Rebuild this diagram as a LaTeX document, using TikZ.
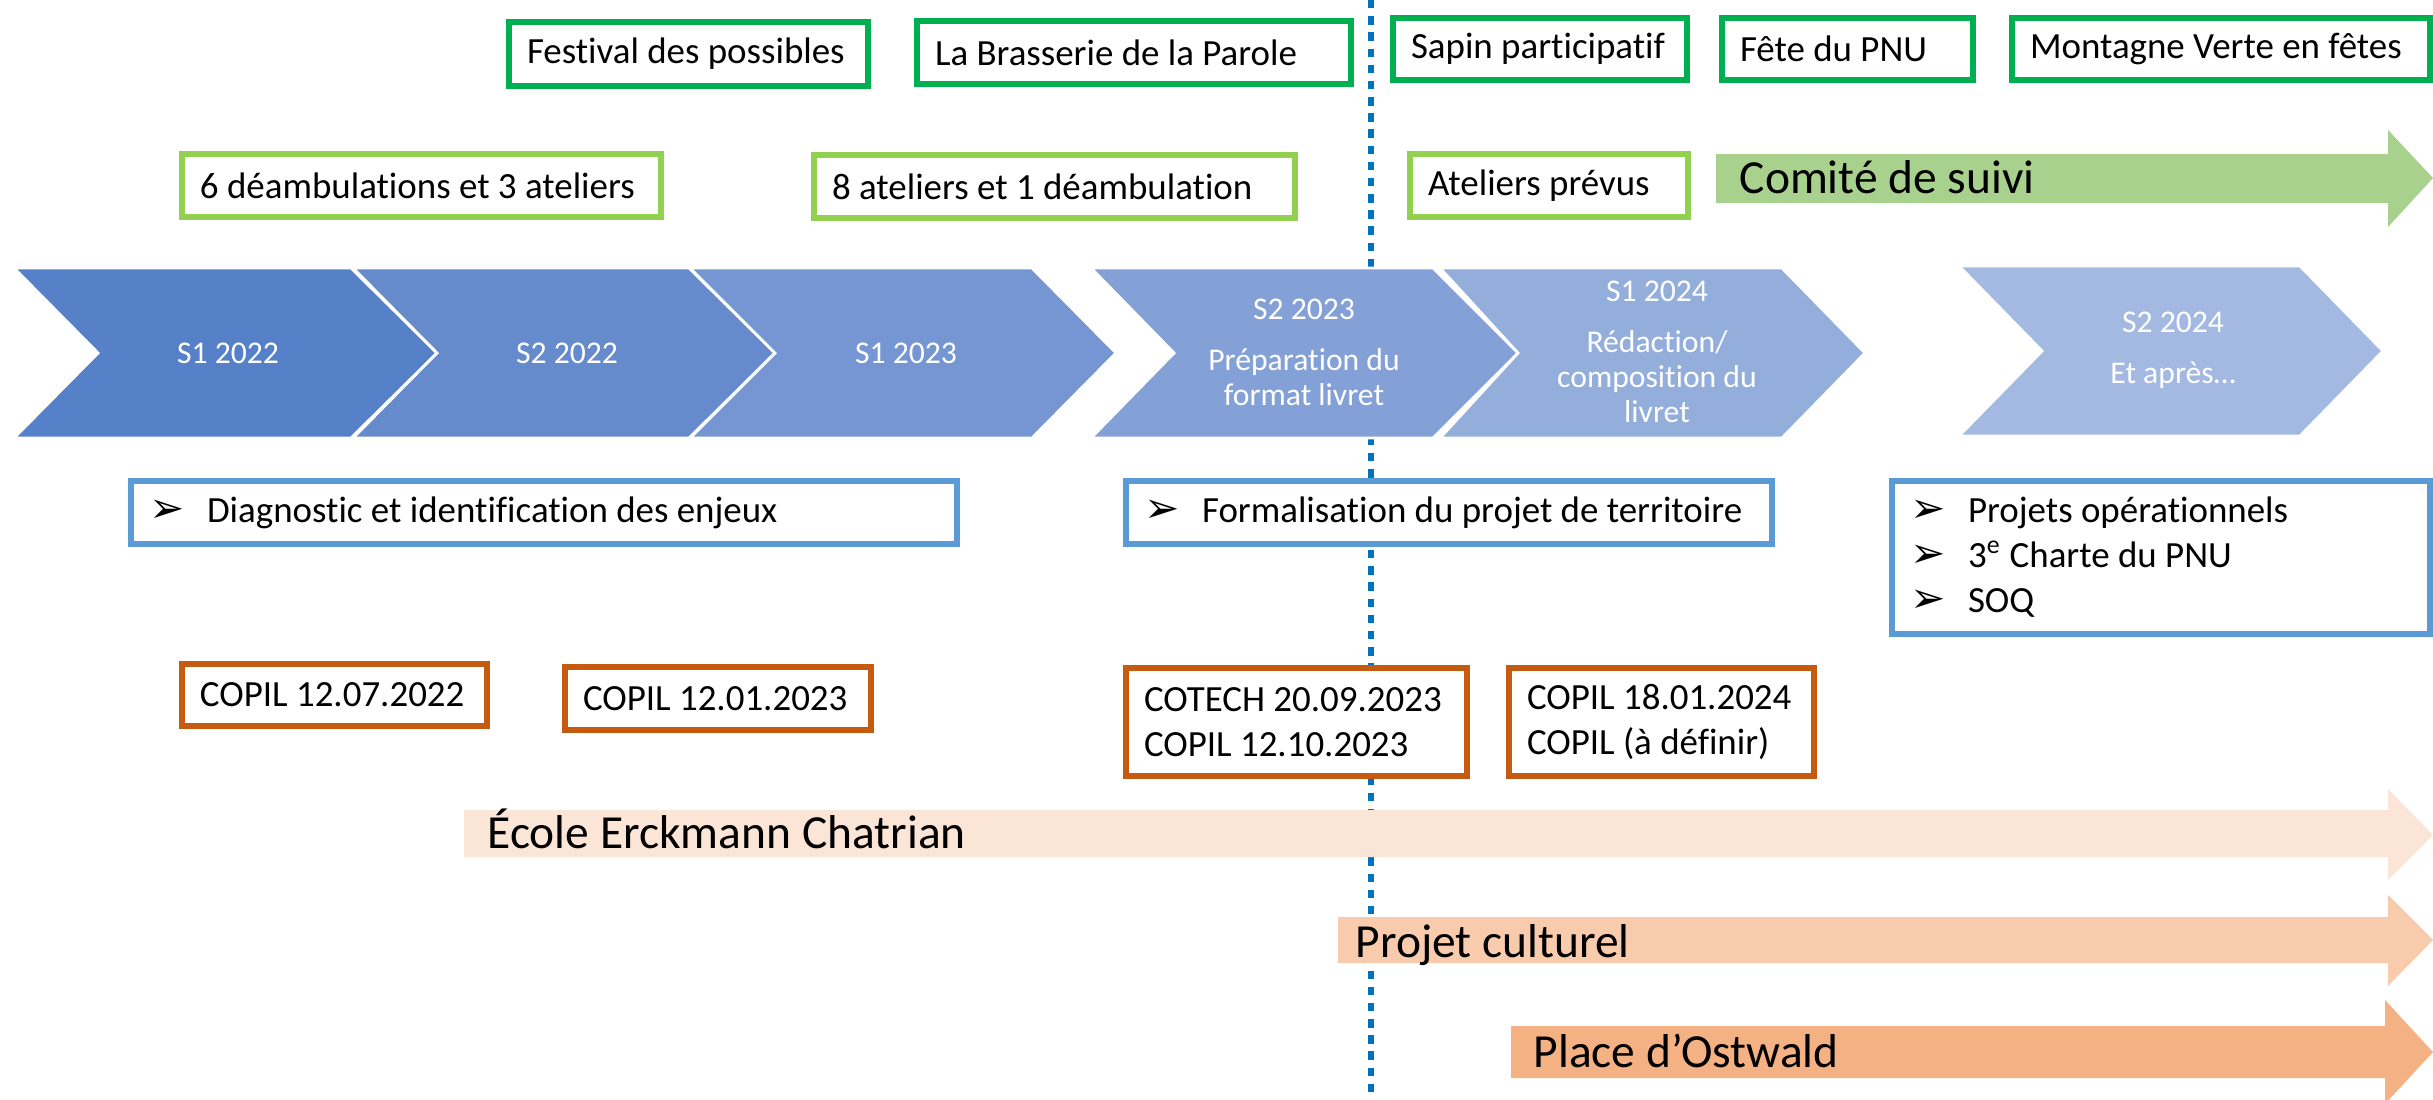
\documentclass[tikz,border=0pt]{standalone}
\usepackage{fontspec}
\setmainfont{Carlito}[Ligatures=NoCommon]
\newfontfamily\symb{DejaVu Sans}
\definecolor{fetevert}{HTML}{00B050}
\definecolor{ateliervert}{HTML}{92D050}
\definecolor{phasebleu}{HTML}{5B9BD5}
\definecolor{copilorange}{HTML}{C55A11}
\definecolor{jalonbleu}{HTML}{0070C0}
\definecolor{comitevert}{HTML}{A9D18E}
\definecolor{ecolerose}{HTML}{FBE5D6}
\definecolor{culturerose}{HTML}{F8CBAD}
\definecolor{ostwaldrose}{HTML}{F4B183}
\definecolor{etapeA}{RGB}{86,128,200}
\definecolor{etapeB}{RGB}{102,139,205}
\definecolor{etapeC}{RGB}{117,150,211}
\definecolor{etapeD}{RGB}{132,161,215}
\definecolor{etapeE}{RGB}{148,174,220}
\definecolor{etapeF}{RGB}{163,185,225}
\newcommand{\puce}{\makebox[16.5pt][l]{\symb\fontsize{12}{12}\selectfont ➢}}
\tikzset{
  cadre/.style={draw, fill=white, line width=1.7pt, anchor=north west, inner xsep=0.18cm, inner ysep=0pt, align=flush left, font=\fontsize{10.5}{12.8}\selectfont},
  fete/.style={cadre, draw=fetevert},
  atelier/.style={cadre, draw=ateliervert},
  phase/.style={cadre, draw=phasebleu},
  copil/.style={cadre, draw=copilorange},
  etape/.style={draw=white, line width=0.8pt},
  etapetexte/.style={text=white, align=flush center, inner sep=0pt, font=\fontsize{9}{10}\selectfont},
  flechetexte/.style={anchor=base west, inner sep=0pt, font=\fontsize{13.5}{16}\selectfont},
  jalon/.style={draw=jalonbleu, line width=1.7pt, dash pattern=on 2.4pt off 2.2pt}
}
\begin{document}
\begin{tikzpicture}[x=0.01cm,y=-0.01cm]
                            \useasboundingbox (0,0) rectangle (2433,1099);
                            \coordinate (haut) at (1371,0);
                            \coordinate (bas) at (1371,1099);
                            \draw[jalon] (haut) -- (bas);

                            \fill[etapeA,etape] (14,268) -- (351,268) -- (437,353) -- (351,438) -- (14,438) -- (98,353) -- cycle;
                            \fill[etapeB,etape] (353,268) -- (689,268) -- (775,353) -- (689,438) -- (353,438) -- (437,353) -- cycle;
                            \fill[etapeC,etape] (690,268) -- (1032,268) -- (1116,353) -- (1032,438) -- (690,438) -- (775,353) -- cycle;
                            \fill[etapeD,etape] (1091,268) -- (1433,268) -- (1518,353) -- (1433,438) -- (1091,438) -- (1174,353) -- cycle;
                            \fill[etapeE,etape] (1440,268) -- (1782,268) -- (1865,353) -- (1782,438) -- (1440,438) -- (1518,353) -- cycle;
                            \fill[etapeF,etape] (1959,266) -- (2300,266) -- (2383,351) -- (2300,436) -- (1959,436) -- (2042,351) -- cycle;
                            \node[etapetexte] (s1a) at (228,353) {S1 2022};
                            \node[etapetexte] (s2a) at (567,353) {S2 2022};
                            \node[etapetexte] (s1b) at (906,353) {S1 2023};
                            \node[etapetexte] (s2b) at (1304,352) {S2 2023\\[4.5pt]Préparation du\\format livret};
                            \node[etapetexte] (s1c) at (1657,352) {S1 2024\\[4.5pt]Rédaction/\\composition du\\livret};
                            \node[etapetexte] (s2c) at (2173,350) {S2 2024\\[4.5pt]Et après…};

                            \node[fete, text width=3.23cm, minimum height=0.64cm] (festival) at (506,19) {Festival des possibles};
                            \node[fete, text width=3.98cm, minimum height=0.63cm] (brasserie) at (914,18) {La Brasserie de la Parole};
                            \node[fete, text width=2.58cm, minimum height=0.62cm] (sapin) at (1390,15) {Sapin participatif};
                            \node[fete, text width=2.15cm, minimum height=0.62cm] (fetepnu) at (1719,15) {Fête du PNU};
                            \node[fete, text width=3.82cm, minimum height=0.62cm] (montagne) at (2009,15) {Montagne Verte en fêtes};

                            \node[atelier, text width=4.43cm, minimum height=0.63cm] (deamb) at (179,151) {6 déambulations et 3 ateliers};
                            \node[atelier, text width=4.45cm, minimum height=0.63cm] (ateliers) at (811,152) {8 ateliers et 1 déambulation};
                            \node[atelier, text width=2.42cm, minimum height=0.63cm] (prevus) at (1407,151) {Ateliers prévus};

                            \node[phase, text width=7.90cm, minimum height=0.63cm] (diagnostic) at (128,478) {\puce Diagnostic et identification des enjeux};
                            \node[phase, text width=6.10cm, minimum height=0.63cm] (formalisation) at (1123,478) {\puce Formalisation du projet de territoire};
                            \node[phase, text width=5.02cm, minimum height=1.53cm] (projets) at (1889,478) {\puce Projets opérationnels\\\puce 3\textsuperscript{e} Charte du PNU\\\puce SOQ};

                            \node[copil, text width=2.69cm, minimum height=0.62cm] (copila) at (179,661) {COPIL 12.07.2022};
                            \node[copil, text width=2.70cm, minimum height=0.63cm] (copilb) at (562,664) {COPIL 12.01.2023};
                            \node[copil, text width=3.05cm, minimum height=1.08cm] (cotech) at (1123,665) {COTECH 20.09.2023\\COPIL 12.10.2023};
                            \node[copil, text width=2.69cm, minimum height=1.08cm] (copilc) at (1506,665) {COPIL 18.01.2024\\COPIL (à définir)};

                            \fill[comitevert] (1716,154) -- (2388,154) -- (2388,130) -- (2433,178) -- (2388,227) -- (2388,203) -- (1716,203) -- cycle;
                            \fill[ecolerose] (464,810) -- (2388,810) -- (2388,789) -- (2433,835) -- (2388,880) -- (2388,857) -- (464,857) -- cycle;
                            \fill[culturerose] (1338,917) -- (2388,917) -- (2388,895) -- (2433,940) -- (2388,986) -- (2388,963) -- (1338,963) -- cycle;
                            \fill[ostwaldrose] (1511,1026) -- (2385,1026) -- (2385,1000) -- (2433,1052) -- (2385,1104) -- (2385,1078) -- (1511,1078) -- cycle;
                            \node[flechetexte] (comite) at (1739,193) {Comité de suivi};
                            \node[flechetexte] (ecole) at (487,848) {École Erckmann Chatrian};
                            \node[flechetexte] (culture) at (1355,957) {Projet culturel};
                            \node[flechetexte] (ostwald) at (1533,1067) {Place d’Ostwald};
                        \end{tikzpicture}
\end{document}
